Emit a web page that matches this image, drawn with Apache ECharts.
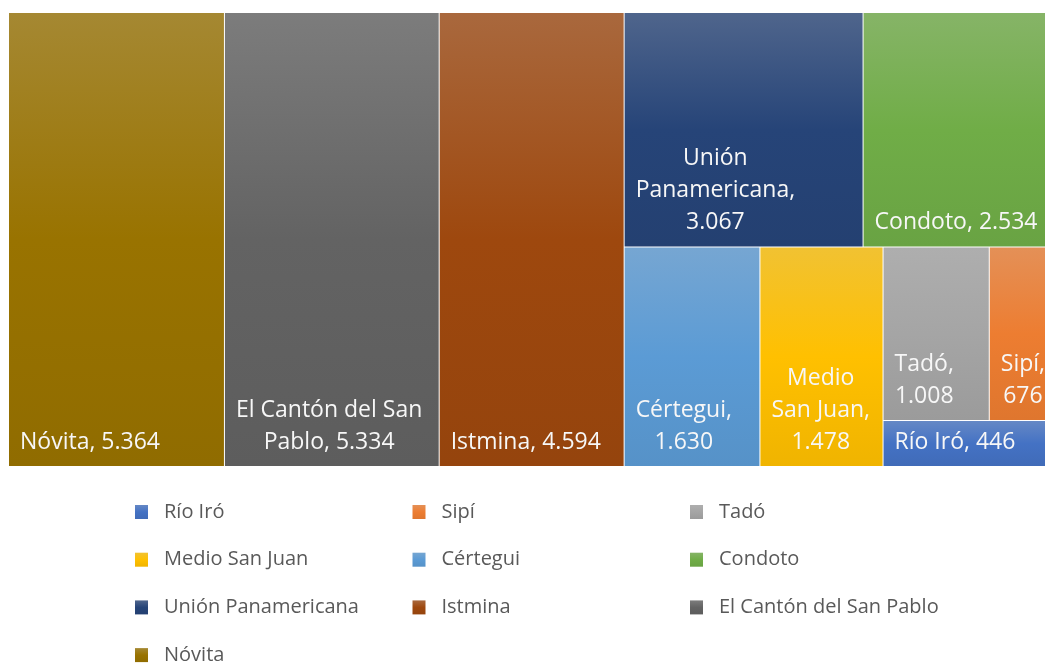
<!DOCTYPE html>
<html>
<head>
<meta charset="utf-8">
<script src="https://cdn.jsdelivr.net/npm/echarts@6/dist/echarts.min.js"></script>
<style>
  html, body { margin: 0; padding: 0; background: #fff; }
  #chart { width: 1045px; height: 663px; }
</style>
</head>
<body>
<div id="chart"></div>
<script>
// Municipalities and their values
const names = ['Nóvita', 'El Cantón del San Pablo', 'Istmina', 'Unión Panamericana', 'Condoto',
               'Cértegui', 'Medio San Juan', 'Tadó', 'Sipí', 'Río Iró'];
const values = [5364, 5334, 4594, 3067, 2534, 1630, 1478, 1008, 676, 446];
const baseColors = ['#997300', '#636363', '#9e480e', '#264478', '#70ad47',
                    '#5b9bd5', '#ffc000', '#a5a5a5', '#ed7d31', '#4472c4'];
// Tile grouping (indices into names): three full-height strips, then nested rows / columns
const grouping = [0, 1, 2, [[3, 4], [5, 6, [[7, 8], 9]]]];

const FONT = '"Open Sans", "Noto Sans", sans-serif';
const LABEL_SIZE = 23;
const LEGEND_SIZE = 20;
const LINE_H = 32;
const PAD_X = 11;
const PAD_BOTTOM = 8;

function hexToRgb(h) {
  const n = parseInt(h.slice(1), 16);
  return [(n >> 16) & 255, (n >> 8) & 255, n & 255];
}
function mix(a, b, t) {
  const x = hexToRgb(a), y = hexToRgb(b);
  return 'rgb(' + x.map((v, i) => Math.round(v * (1 - t) + y[i] * t)).join(',') + ')';
}
function gradient(hex) {
  return new echarts.graphic.LinearGradient(0, 0, 0, 1, [
    { offset: 0, color: mix(hex, '#c8c8c8', 0.25) },
    { offset: 0.5, color: hex },
    { offset: 1, color: mix(hex, '#000000', 0.06) }
  ]);
}
const fmt = v => String(v).replace(/\B(?=(\d{3})+(?!\d))/g, '.');

const ctx = document.createElement('canvas').getContext('2d');
ctx.font = LABEL_SIZE + 'px ' + FONT;
const measure = s => ctx.measureText(s).width;
function wrap(text, maxW) {
  const words = text.split(' ');
  const lines = [];
  let cur = '';
  words.forEach(w => {
    const test = cur ? cur + ' ' + w : w;
    if (cur && measure(test) > maxW) { lines.push(cur); cur = w; }
    else cur = test;
  });
  if (cur) lines.push(cur);
  return lines;
}

function build(node, labels) {
  if (Array.isArray(node)) return { name: '', children: node.map(n => build(n, labels)) };
  const item = { name: names[node], value: values[node], itemStyle: { color: gradient(baseColors[node]) } };
  if (labels && labels[node]) item.label = labels[node];
  return item;
}

// Legend in ascending order of value, three columns
const order = names.map((_, i) => i).sort((a, b) => values[a] - values[b]);
const legendGraphic = [];
order.forEach((i, k) => {
  const col = k % 3, row = Math.floor(k / 3);
  const x = 135 + col * 277.5, y = 512 + row * 47.7;
  legendGraphic.push({ type: 'rect', silent: true, shape: { x: x, y: y - 7, width: 13, height: 14 },
                       style: { fill: gradient(baseColors[i]) } });
  legendGraphic.push({ type: 'text', silent: true,
                       style: { x: x + 29, y: y, text: names[i], fill: '#595959',
                                font: LEGEND_SIZE + 'px ' + FONT, verticalAlign: 'middle', align: 'left' } });
});

function makeOption(labels) {
  return {
    animation: false,
    graphic: legendGraphic,
    series: [{
      type: 'treemap',
      left: 9, top: 13, width: 1051, height: 453,
      squareRatio: 1e-6,
      sort: false,
      roam: false,
      nodeClick: false,
      breadcrumb: { show: false },
      emphasis: { disabled: true },
      itemStyle: { borderWidth: 0, gapWidth: 1, borderColor: '#ffffff' },
      upperLabel: { show: false },
      label: {
        show: true, color: '#f7f7f7', fontFamily: FONT, fontSize: LABEL_SIZE,
        lineHeight: LINE_H, padding: 0, overflow: 'none'
      },
      data: build(grouping, labels).children
    }]
  };
}

const chart = echarts.init(document.getElementById('chart'), null, { renderer: 'canvas' });
chart.setOption(makeOption(null));

// Place each label in the lower-left corner of its tile, lines centred on each other
const data = chart.getModel().getSeriesByIndex(0).getData();
const labels = {};
data.each(idx => {
  const node = data.tree.getNodeByDataIndex(idx);
  if (node.children && node.children.length) return;
  const i = names.indexOf(data.getName(idx));
  if (i < 0) return;
  const lay = data.getItemLayout(idx);
  const lines = wrap(names[i] + ', ' + fmt(values[i]), lay.width - 2 * PAD_X);
  const blockW = Math.max.apply(null, lines.map(measure));
  labels[i] = {
    formatter: lines.join('\n'),
    position: [PAD_X + blockW / 2, lay.height - PAD_BOTTOM - lines.length * LINE_H],
    align: 'center', verticalAlign: 'top'
  };
});
chart.setOption(makeOption(labels), true);
</script>
</body>
</html>
